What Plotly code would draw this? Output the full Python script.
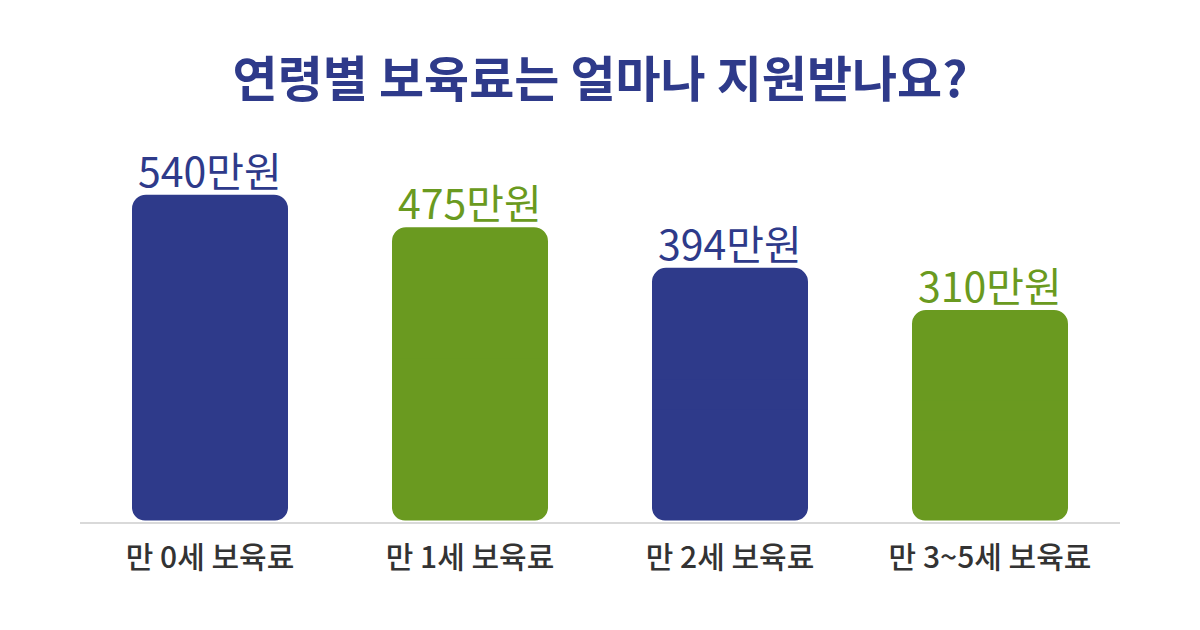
import plotly.graph_objs as go

categories = ["만 0세 보육료", "만 1세 보육료", "만 2세 보육료", "만 3~5세 보육료"]
support = [540, 475, 394, 310]
labels = ["540만원", "475만원", "394만원", "310만원"]

NAVY = "#2E3A8A"
GREEN = "#6A9A20"
bar_colors = [NAVY, GREEN, NAVY, GREEN]

# the original chart does not start its bars at zero; keep the same visual floor
FLOOR = -110
FONT = "Noto Sans CJK KR"

# each bar is drawn as two rounded halves meeting in the middle plus a square
# patch over the seam, so both the top and the bottom get rounded corners
mids = [(v + FLOOR) / 2 for v in support]
PATCH = 30

fig = go.Figure()
fig.add_trace(go.Bar(
    x=categories,
    y=[v - m for v, m in zip(support, mids)],
    base=mids,
    width=0.6,
    marker=dict(color=bar_colors, cornerradius=14, line=dict(width=0)),
    hoverinfo="skip",
))
fig.add_trace(go.Bar(
    x=categories,
    y=[FLOOR - m for m in mids],
    base=mids,
    width=0.6,
    marker=dict(color=bar_colors, cornerradius=13, line=dict(width=0)),
    hoverinfo="skip",
))
fig.add_trace(go.Bar(
    x=categories,
    y=[2 * PATCH] * len(mids),
    base=[m - PATCH for m in mids],
    width=0.6,
    marker=dict(color=bar_colors, cornerradius=0, line=dict(width=0)),
    hoverinfo="skip",
))

# value labels above each bar
for cat, val, lab, col in zip(categories, support, labels, bar_colors):
    fig.add_annotation(
        x=cat, y=val, text=lab, showarrow=False,
        xanchor="center", yanchor="bottom", yshift=-6,
        font=dict(size=41, color=col, family=FONT),
    )

fig.update_layout(
    width=1200, height=630,
    paper_bgcolor="white",
    plot_bgcolor="white",
    margin=dict(l=72, r=88, t=122, b=116),
    showlegend=False,
    barmode="overlay",
    font=dict(family=FONT, color="#333333"),
    title=dict(
        text="<b>연령별 보육료는 얼마나 지원받나요?</b>",
        x=(600 - 8) / 1200, xanchor="center",
        y=1 - 72 / 630, yref="container", yanchor="middle",
        font=dict(size=49, color=NAVY, family=FONT),
    ),
    xaxis=dict(
        showline=True, linecolor="#D9D9D9", linewidth=2,
        ticks="", showgrid=False,
        tickfont=dict(size=30, color="#333333", family=FONT, weight=500),
        ticklabelstandoff=8,
    ),
    yaxis=dict(
        range=[FLOOR - 3, 669],
        visible=False, showgrid=False, zeroline=False,
    ),
)

fig.write_html("out.html")
